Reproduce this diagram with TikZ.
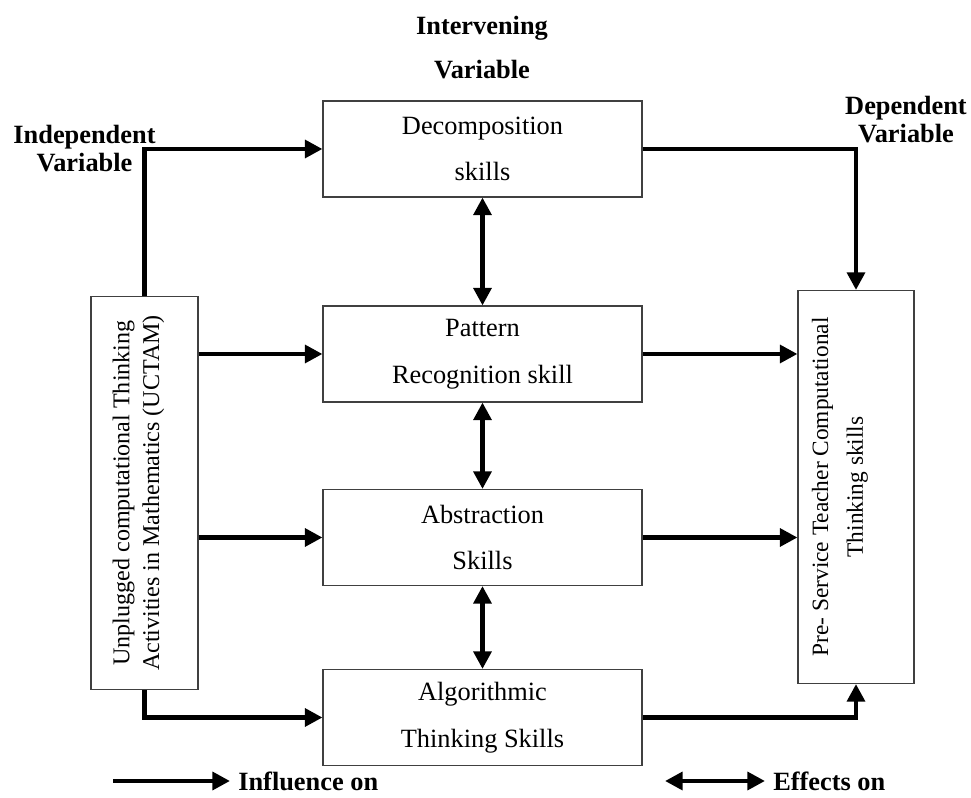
\documentclass[tikz,border=0pt]{standalone}
\usepackage{fontspec}
\setmainfont{Liberation Serif}
\usetikzlibrary{arrows.meta}
\tikzset{
  skillbox/.style={draw=black!75, line width=0.6pt, minimum width=6.38cm, minimum height=1.92cm, align=center, font=\fontsize{15}{26.5}\selectfont},
  sidebox/.style={draw=black!75, line width=0.6pt, minimum height=7.86cm},
  sidetext/.style={rotate=90, align=center},
  infl/.style={line width=2.8pt, -{Triangle[length=10pt,width=10pt]}},
  effect/.style={line width=2.8pt, {Triangle[length=10pt,width=10pt]}-{Triangle[length=10pt,width=10pt]}},
  heading/.style={font=\bfseries\fontsize{15}{16}\selectfont, align=center}
}
\begin{document}
\begin{tikzpicture}
\useasboundingbox (0,0) rectangle (19.42,15.96);

\node[skillbox] (decomp) at (9.65,12.98) {Decomposition\\skills};
\node[skillbox] (pattern) at (9.65,8.88) {Pattern\\Recognition skill};
\node[skillbox] (abstr) at (9.65,5.21) {Abstraction\\Skills};
\node[skillbox] (algo) at (9.65,1.61) {Algorithmic\\Thinking Skills};

\node[sidebox, minimum width=2.14cm] (uctam) at (2.89,6.10) {};
\node[sidetext, font=\fontsize{13.7}{17}\selectfont] (uctamtext) at ([xshift=-0.12cm]uctam.center) {Unplugged computational Thinking\\Activities in Mathematics (UCTAM)};
\node[sidebox, minimum width=2.32cm] (pst) at (17.12,6.22) {};
\node[sidetext, font=\fontsize{13.3}{19.8}\selectfont] (psttext) at ([xshift=-0.32cm]pst.center) {Pre- Service Teacher Computational\\Thinking skills};

\node[heading] (interv) at (9.64,15.01) {Intervening\\[9.5pt]Variable};
\node[heading] (indep) at (1.69,12.98) {Independent\\Variable};
\node[heading] (dep) at (18.12,13.56) {Dependent\\Variable};

\draw[infl] (uctam.north) |- (decomp.west);
\draw[infl] (uctam.south) |- (algo.west);
\draw[infl] (decomp.east) -| (pst.north);
\draw[infl] (algo.east) -| (pst.south);
\foreach \s in {pattern, abstr} {
  \draw[infl] (uctam.east |- \s.west) -- (\s.west);
  \draw[infl] (\s.east) -- (\s.east -| pst.west);
}
\foreach \a/\b in {decomp/pattern, pattern/abstr, abstr/algo}
  \draw[effect] (\a.south) -- (\b.north);

\coordinate (inflA) at (2.26,0.34);
\coordinate (inflB) at (4.6,0.34);
\draw[infl] (inflA) -- (inflB) node[right, heading] (infltext) {Influence on};
\coordinate (effA) at (13.3,0.34);
\coordinate (effB) at (15.3,0.34);
\draw[effect] (effA) -- (effB) node[right, heading] (efftext) {Effects on};
\end{tikzpicture}
\end{document}
